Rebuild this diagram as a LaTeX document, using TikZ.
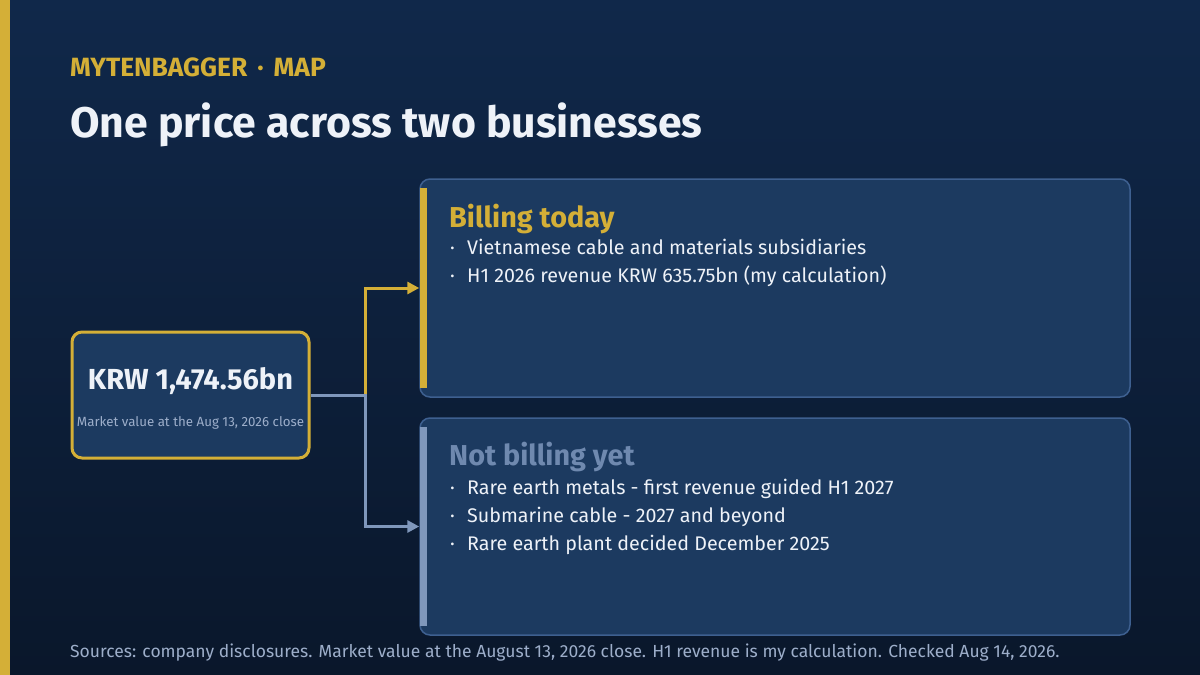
\documentclass[tikz,border=0pt]{standalone}
\usepackage{fontspec}
\setmainfont{Fira Sans}
\usetikzlibrary{arrows.meta}
\definecolor{gold}{HTML}{D4AF37}
\definecolor{bgtop}{HTML}{10284A}
\definecolor{bgbot}{HTML}{0A172B}
\definecolor{panel}{HTML}{1C3A60}
\definecolor{panelline}{HTML}{3E6090}
\definecolor{slate}{HTML}{7F97BB}
\definecolor{muted}{HTML}{9DAECA}
\definecolor{textw}{HTML}{EEF2F8}
\definecolor{dimtitle}{HTML}{6F89AF}
\tikzset{
  txt/.style={inner sep=0pt, anchor=base west},
  panelbox/.style={draw=panelline, line width=1.5pt, fill=panel, rounded corners=10pt},
  link/.style={line width=3pt, -{Triangle[length=12pt,width=12pt]}},
  item/.style={txt, text=textw, font=\fontsize{19.7}{23}\selectfont},
  dot/.style={txt, text=textw, font=\fontsize{19.7}{23}\selectfont},
  ptitle/.style={txt, font=\bfseries\fontsize{28.8}{34}\selectfont},
}
\begin{document}
\begin{tikzpicture}[x=1pt,y=-1pt]
\useasboundingbox (0,0) rectangle (1200,675);
\shade[top color=bgtop,bottom color=bgbot] (0,0) rectangle (1200,675);
\fill[gold] (0,0) rectangle (10,675);

\node[txt, text=gold, font=\bfseries\fontsize{26.4}{30}\selectfont] (kicker) at (70,76) {MYTENBAGGER\hspace{10pt}·\hspace{10pt}MAP};
\node[txt, text=textw, font=\bfseries\fontsize{42.8}{50}\selectfont] (title) at (70,137) {One price across two businesses};

% left box
\node[draw=gold, line width=3pt, fill=panel, rounded corners=10pt, minimum width=237pt, minimum height=126pt, inner sep=0pt] (mv) at (190.5,395) {};
\node[inner sep=0pt, anchor=base, text=textw, font=\bfseries\fontsize{29}{34}\selectfont] (mvval) at (190.5,389) {KRW 1,474.56bn};
\node[inner sep=0pt, anchor=base, text=muted, font=\fontsize{13.3}{16}\selectfont] (mvsub) at (190.5,426) {Market value at the Aug 13, 2026 close};

% panels
\node[panelbox, minimum width=710pt, minimum height=218pt, inner sep=0pt] (billing) at (775,288) {};
\node[panelbox, minimum width=710pt, minimum height=217pt, inner sep=0pt] (notyet) at (775,526.5) {};
\fill[gold] (420,188) rectangle (427,388);
\fill[slate] (420,427) rectangle (427,626);

% connectors
\coordinate (split) at (365,395);
\draw[gold, link] (split) |- (billing.west);
\draw[slate, link] (mv.east) -- (split) |- (notyet.west);

% billing text
\node[ptitle, text=gold] (bt) at (449,227) {Billing today};
\node[dot] (b1d) at (450,254) {·};
\node[item] (b1) at (467,254) {Vietnamese cable and materials subsidiaries};
\node[dot] (b2d) at (450,282) {·};
\node[item] (b2) at (467,282) {H1 2026 revenue KRW 635.75bn (my calculation)};

% not yet text
\node[ptitle, text=dimtitle] (nt) at (449,465) {Not billing yet};
\node[dot] (n1d) at (450,494) {·};
\node[item] (n1) at (467,494) {Rare earth metals - first revenue guided H1 2027};
\node[dot] (n2d) at (450,522) {·};
\node[item] (n2) at (467,522) {Submarine cable - 2027 and beyond};
\node[dot] (n3d) at (450,550) {·};
\node[item] (n3) at (467,550) {Rare earth plant decided December 2025};

% footer
\node[txt, text=muted, font=\fontsize{17.5}{21}\selectfont] (foot) at (70,657) {Sources: company disclosures. Market value at the August 13, 2026 close. H1 revenue is my calculation. Checked Aug 14, 2026.};
\end{tikzpicture}
\end{document}
